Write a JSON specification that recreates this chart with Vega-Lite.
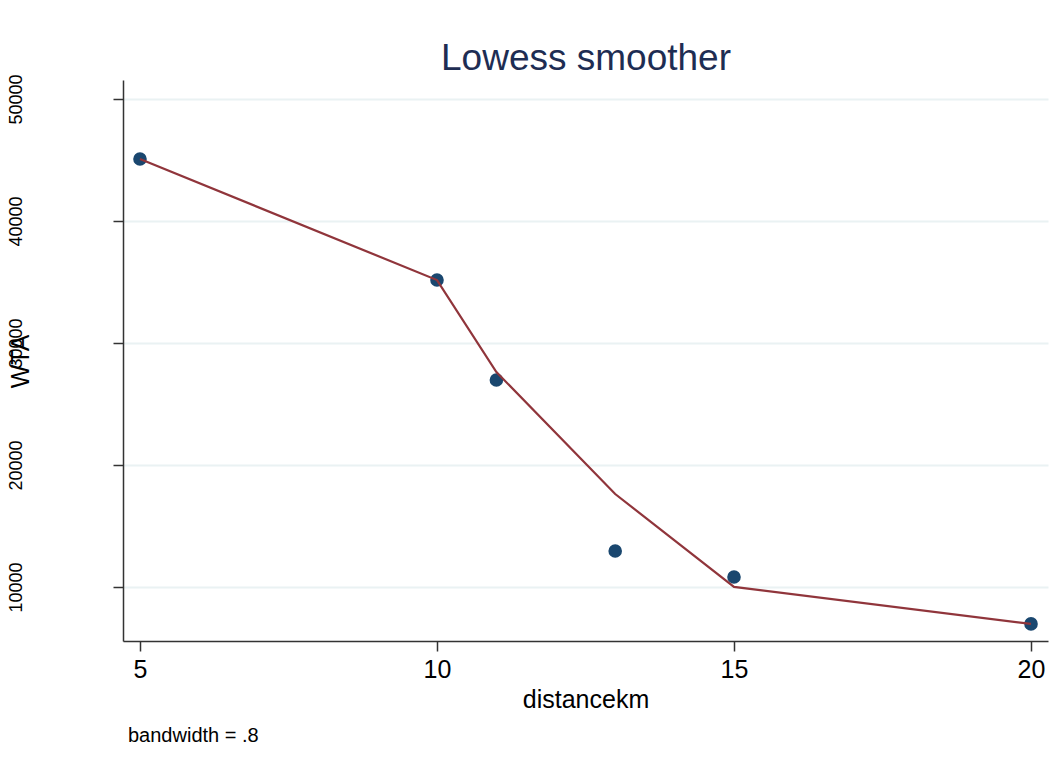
{
  "$schema": "https://vega.github.io/schema/vega-lite/v6.json",
  "autosize": {"type": "none"},
  "width": 925,
  "height": 561,
  "padding": {"left": 123, "top": 80, "right": 16, "bottom": 131},
  "background": "white",
  "config": {
    "font": "Liberation Sans",
    "view": {"stroke": null},
    "axis": {"labelFont": "Liberation Sans", "titleFont": "Liberation Sans", "titleFontWeight": "normal"}
  },
  "title": {
    "text": "bandwidth = .8",
    "orient": "bottom",
    "anchor": "start",
    "frame": "group",
    "fontSize": 20,
    "fontWeight": "normal",
    "color": "#000000",
    "offset": 14,
    "dx": 5
  },
  "data": {
    "values": [
      {"distancekm": 5, "wta": 45080, "lowess": 45080},
      {"distancekm": 10, "wta": 35160, "lowess": 35160},
      {"distancekm": 11, "wta": 26970, "lowess": 27620},
      {"distancekm": 13, "wta": 12950, "lowess": 17620},
      {"distancekm": 15, "wta": 10820, "lowess": 10000},
      {"distancekm": 20, "wta": 6970, "lowess": 6970}
    ]
  },
  "resolve": {"axis": {"x": "independent"}},
  "layer": [
    {
      "mark": {"type": "point", "filled": true, "size": 185, "color": "#1a476f", "opacity": 1},
      "encoding": {
        "x": {
          "field": "distancekm", "type": "quantitative",
          "scale": {"domain": [4.714, 20.286], "nice": false, "zero": false},
          "axis": {
            "values": [5, 10, 15, 20], "grid": false,
            "tickSize": 10, "tickColor": "#333333", "tickWidth": 1.5,
            "domainColor": "#333333", "domainWidth": 1.5,
            "labelFontSize": 25, "labelColor": "#000000", "labelPadding": 6,
            "title": "distancekm", "titleFontSize": 25, "titleColor": "#000000", "titlePadding": 5
          }
        },
        "y": {
          "field": "wta", "type": "quantitative",
          "scale": {"domain": [5570, 51560], "nice": false, "zero": false},
          "axis": {
            "values": [10000, 20000, 30000, 40000, 50000], "format": "d",
            "grid": true, "gridColor": "#eaf2f3", "gridWidth": 2,
            "tickSize": 10, "tickColor": "#333333", "tickWidth": 1.5,
            "domainColor": "#333333", "domainWidth": 1.5,
            "labelAngle": 270, "labelAlign": "center", "labelBaseline": "bottom",
            "labelFontSize": 18, "labelColor": "#000000", "labelPadding": 88,
            "title": "WTA", "titleFontSize": 25, "titleColor": "#000000",
            "titleAngle": 270, "titleX": -103, "titleY": 281,
            "titleAlign": "center", "titleBaseline": "middle"
          }
        }
      }
    },
    {
      "mark": {"type": "line", "color": "#90353b", "strokeWidth": 2.2},
      "encoding": {
        "x": {
          "field": "distancekm", "type": "quantitative",
          "axis": {
            "orient": "top", "domain": false, "ticks": false, "labels": false, "grid": false,
            "title": "Lowess smoother", "titleFontSize": 37, "titleColor": "#1e2d53", "titlePadding": 3
          }
        },
        "y": {"field": "lowess", "type": "quantitative"}
      }
    }
  ]
}
